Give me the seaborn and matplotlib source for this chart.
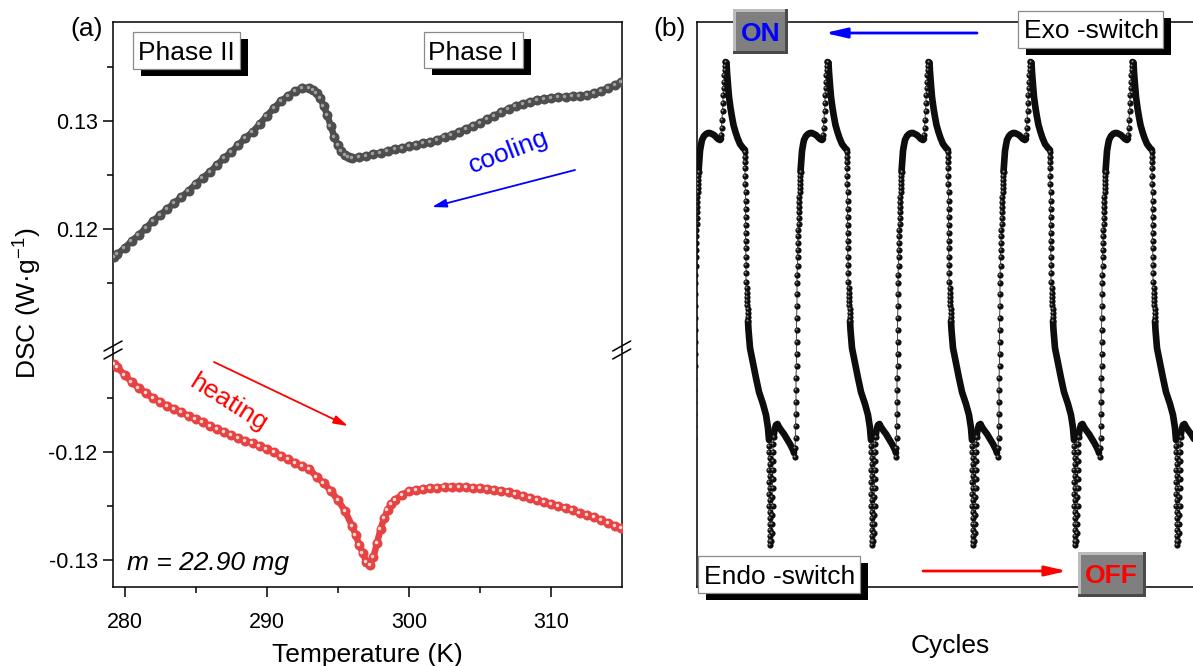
import numpy as np
import pandas as pd
import matplotlib
matplotlib.use("Agg")
import matplotlib.pyplot as plt
import seaborn as sns
from matplotlib.patches import Rectangle, FancyArrowPatch
from matplotlib.lines import Line2D
from matplotlib.transforms import ScaledTranslation

# ---------------- panel (a) data: DSC vs temperature ----------------
cool_T = [279.25, 279.5, 280.0, 280.5, 281.0, 281.5, 282.0, 282.5, 283.0, 283.5,
          284.0, 284.5, 285.0, 285.5, 286.0, 286.5, 287.0, 287.5, 288.0, 288.5,
          289.0, 289.5, 290.0, 290.5, 291.0, 291.5, 292.0, 292.5, 293.0, 293.25,
          293.5, 293.75, 294.0, 294.25, 294.5, 294.75, 295.0, 295.25, 295.5, 295.75,
          296.0, 296.5, 297.0, 297.5, 298.0, 298.5, 299.0, 299.5, 300.0, 300.5,
          301.0, 301.5, 302.0, 302.5, 303.0, 303.5, 304.0, 304.5, 305.0, 305.5,
          306.0, 306.5, 307.0, 307.5, 308.0, 308.5, 309.0, 309.5, 310.0, 310.5,
          311.0, 311.5, 312.0, 312.5, 313.0, 313.5, 314.0, 314.5, 314.9]
cool_dsc = [0.11741, 0.11769, 0.11824, 0.11889, 0.11944, 0.12009, 0.12074, 0.12130, 0.12185, 0.12241,
            0.12296, 0.12352, 0.12417, 0.12472, 0.12528, 0.12593, 0.12657, 0.12713, 0.12778, 0.12843,
            0.12898, 0.12972, 0.13046, 0.13120, 0.13185, 0.13231, 0.13278, 0.13306, 0.13306, 0.13287,
            0.13259, 0.13213, 0.13139, 0.13056, 0.12954, 0.12852, 0.12778, 0.12722, 0.12685, 0.12667,
            0.12657, 0.12667, 0.12676, 0.12694, 0.12704, 0.12722, 0.12741, 0.12750, 0.12769, 0.12778,
            0.12796, 0.12806, 0.12824, 0.12852, 0.12870, 0.12898, 0.12926, 0.12954, 0.12981, 0.13019,
            0.13046, 0.13083, 0.13111, 0.13139, 0.13157, 0.13176, 0.13194, 0.13204, 0.13213, 0.13222,
            0.13222, 0.13231, 0.13231, 0.13241, 0.13259, 0.13278, 0.13306, 0.13333, 0.13361]

heat_T = [279.25, 279.5, 280.0, 280.5, 281.0, 281.5, 282.0, 282.5, 283.0, 283.5,
          284.0, 284.5, 285.0, 285.5, 286.0, 286.5, 287.0, 287.5, 288.0, 288.5,
          289.0, 289.5, 290.0, 290.5, 291.0, 291.5, 292.0, 292.5, 293.0, 293.5,
          294.0, 294.5, 295.0, 295.5, 296.0, 296.25, 296.5, 296.75, 297.0, 297.25,
          297.5, 297.75, 298.0, 298.25, 298.5, 298.75, 299.0, 299.5, 300.0, 300.5,
          301.0, 301.5, 302.0, 302.5, 303.0, 303.5, 304.0, 304.5, 305.0, 305.5,
          306.0, 306.5, 307.0, 307.5, 308.0, 308.5, 309.0, 309.5, 310.0, 310.5,
          311.0, 311.5, 312.0, 312.5, 313.0, 313.5, 314.0, 314.5, 314.9]
heat_dsc = [-0.11185, -0.11213, -0.11287, -0.11352, -0.11407, -0.11454, -0.11500, -0.11537, -0.11574, -0.11602,
            -0.11630, -0.11667, -0.11694, -0.11722, -0.11759, -0.11787, -0.11815, -0.11843, -0.11870, -0.11898,
            -0.11917, -0.11944, -0.11972, -0.12000, -0.12037, -0.12065, -0.12102, -0.12130, -0.12157, -0.12231,
            -0.12287, -0.12361, -0.12444, -0.12546, -0.12685, -0.12769, -0.12861, -0.12935, -0.13019, -0.13046,
            -0.12972, -0.12843, -0.12713, -0.12611, -0.12537, -0.12481, -0.12444, -0.12398, -0.12361, -0.12352,
            -0.12343, -0.12333, -0.12333, -0.12324, -0.12324, -0.12324, -0.12324, -0.12333, -0.12333, -0.12343,
            -0.12352, -0.12361, -0.12370, -0.12389, -0.12407, -0.12426, -0.12444, -0.12463, -0.12481, -0.12500,
            -0.12519, -0.12537, -0.12565, -0.12583, -0.12602, -0.12630, -0.12657, -0.12685, -0.12704]

x_ticks = [280, 290, 300, 310]
x_tick_labels = ["280", "290", "300", "310"]
top_ticks = [0.12, 0.13]
top_tick_labels = ["0.12", "0.13"]
bot_ticks = [-0.13, -0.12]
bot_tick_labels = ["-0.13", "-0.12"]

# ---------------- panel (b) data: one switching cycle (time offset, signal a.u.) ----------------
cycle_start = [0, 102, 203, 305, 407]

rise_dt = [-4, -4, -3.5, -3.5, -3, -3, -3, -3, -2.5, -2.5, -2.5, -2.5, -2.5, -2, -2, -2, -2,
           -1.5, -1.5, -1.5, -1, -1, -1, -0.5, -0.5, -0.5, 0, 0, 0, 0.5, 0.5, 1, 1, 1, 1.5]
rise_h = [130, 139, 149, 161, 173, 185, 197, 209, 221, 233, 245, 257, 269, 281, 293, 304, 312,
          321, 330, 337, 344, 351, 357, 363, 369, 375, 380, 385, 390, 395, 399, 403, 407, 411, 415]
upper_dt = [1.5, 2, 2.5, 3, 4, 5, 7, 9, 11, 13, 15, 17, 19, 21, 23, 24]
upper_h = [415, 422, 429, 436, 442, 447, 451, 453, 454, 454, 453, 452, 450, 448, 447, 448]
spike_up_dt = [24, 24.5, 25, 25.5, 26, 26, 26.5, 27, 27, 27.5, 28, 28.5]
spike_up_h = [452, 459, 467, 476, 484, 492, 499, 505, 512, 517, 521, 525]
spike_down_dt = [28.5, 29.5, 30, 31, 32, 33.5, 35, 36.5, 38.5, 40.5, 43, 46, 48]
spike_down_h = [525, 524, 515, 502, 490, 479, 470, 462, 455, 449, 443, 439, 437]
fall_col_dt = [48, 48, 48, 48, 48, 48, 48.5, 48.5, 48.5, 48.5, 48.5, 48.5, 48.5, 48.5,
               49, 49, 49, 49, 49.5, 49.5, 50, 50, 50, 50.5, 50.5, 51, 51]
fall_col_h = [435, 430, 425, 419, 411, 403, 395, 386, 378, 370, 362, 354, 346, 339,
              330, 322, 314, 305, 299, 294, 290, 286, 282, 278, 274, 270, 266]
fall_curve_dt = [51, 51.5, 53, 56, 59, 62, 66, 69, 71, 72]
fall_curve_h = [266, 257, 239, 224, 209, 195, 183, 172, 159, 147]
trough_dt = [72, 72, 72.5, 72.5, 72, 72.5, 72, 72.5, 72, 72.5, 72, 72.5, 72.5, 73, 72.5, 73, 73, 73,
             74, 74.5, 75, 75, 75.5, 75, 75.5, 75.5, 75.5, 76, 76, 76, 76.5]
trough_h = [141, 135, 129, 123, 117, 111, 105, 99, 93, 87, 81, 75, 69, 63, 57, 51, 46, 42,
            46, 54, 63, 72, 81, 90, 99, 108, 117, 126, 135, 143, 150]
lower_dt = [76.5, 77.5, 79, 80.5, 82, 84, 87, 90, 93, 96, 97]
lower_h = [150, 157, 162, 163, 160, 157, 153, 148, 143, 137, 134]

# ---------------- style ----------------
sns.set_style("ticks")
plt.rcParams["font.family"] = ["Liberation Sans", "DejaVu Sans"]
plt.rcParams["mathtext.fontset"] = "custom"
plt.rcParams["mathtext.rm"] = "Liberation Sans"
plt.rcParams["mathtext.it"] = "Liberation Sans:italic"
plt.rcParams["axes.linewidth"] = 1.1
plt.rcParams["axes.edgecolor"] = "black"
for key in ("text.color", "axes.labelcolor", "xtick.color", "ytick.color",
            "xtick.labelcolor", "ytick.labelcolor"):
    plt.rcParams[key] = "black"

W, H = 1193, 666
fig = plt.figure(figsize=(W / 100, H / 100), dpi=100)
fig.patch.set_facecolor("white")


def fx(px):
    return px / W


def fy(py):
    return 1 - py / H


def rect_axes(x0, y0, x1, y1):
    return [fx(x0), fy(y1), (x1 - x0) / W, (y1 - y0) / H]


BREAK = 350
ax_top = fig.add_axes(rect_axes(113, 22, 621.7, BREAK))
ax_bot = fig.add_axes(rect_axes(113, BREAK, 621.7, 587))
ax_b = fig.add_axes(rect_axes(697, 22, 1203, 587))


def balls(ax, x, y, base, hi, d_px, line_px, hi_px):
    sns.lineplot(x=x, y=y, ax=ax, sort=False, estimator=None, color=base,
                 linewidth=line_px * 0.72, zorder=2)
    sns.scatterplot(x=x, y=y, ax=ax, color=base, s=(d_px * 0.72) ** 2,
                    linewidth=0, zorder=3, legend=False)
    sns.scatterplot(x=x, y=y, ax=ax, color=hi, s=(hi_px * 0.72) ** 2,
                    linewidth=0, zorder=4, legend=False)
    coll = ax.collections[-1]
    coll.set_offset_transform(ax.transData + ScaledTranslation(-0.013, 0.013, fig.dpi_scale_trans))


# ---- panel (a) ----
balls(ax_top, cool_T, cool_dsc, "#4e4e4e", "#a0a0a0", 10, 6.5, 3.5)
balls(ax_bot, heat_T, heat_dsc, "#e84343", "#fbd9d9", 10, 6.5, 3.5)

for ax in (ax_top, ax_bot):
    ax.set_xlim(279.19, 314.95)
    ax.set_xlabel("")
    ax.set_ylabel("")
    ax.tick_params(axis="y", which="major", direction="out", length=7, width=1.1,
                   labelsize=15.5, pad=4, right=False)
    ax.tick_params(axis="y", which="minor", direction="out", length=4, width=1.1, right=False)
    for s in ax.spines.values():
        s.set_color("black")
        s.set_linewidth(1.1)

ax_top.set_ylim(0.13 - (BREAK - 121) / 10800, 0.13 + 99 / 10800)
ax_bot.set_ylim(-0.13 - 27 / 10800, -0.12 + (452 - BREAK) / 10800)

ax_top.set_yticks(top_ticks, labels=top_tick_labels)
ax_top.set_yticks([0.115, 0.125, 0.135], minor=True)
ax_bot.set_yticks(bot_ticks, labels=bot_tick_labels)
ax_bot.set_yticks([-0.125, -0.115], minor=True)
ax_top.tick_params(axis="x", which="both", bottom=False, labelbottom=False)
ax_top.spines["bottom"].set_visible(False)
ax_bot.spines["top"].set_visible(False)

ax_bot.set_xticks(x_ticks, labels=x_tick_labels)
ax_bot.set_xticks([285, 295, 305], minor=True)
ax_bot.tick_params(axis="x", which="major", direction="out", length=7, width=1.1,
                   labelsize=15.5, pad=11)
ax_bot.tick_params(axis="x", which="minor", direction="out", length=4, width=1.1)

ax_bot.set_xlabel("Temperature (K)", fontsize=19)
ax_bot.xaxis.label.set_va("center")
ax_bot.xaxis.set_label_coords(0.5, (587 - 655) / (587 - BREAK))

ax_top.set_ylabel("DSC (W·g$^{-1}$)", fontsize=19)
ax_top.yaxis.label.set_va("center")
ax_top.yaxis.set_label_coords((28 - 113) / (621.7 - 113), (BREAK - 303) / (BREAK - 22))

# axis break marks
for xs in (113, 621.7):
    for yb in (BREAK - 4, BREAK + 4):
        fig.add_artist(Line2D([fx(xs - 9), fx(xs + 9)], [fy(yb + 5), fy(yb - 5)],
                              transform=fig.transFigure, color="black", lw=1.1, zorder=30))

# ---- panel (b) ----
segments = [("bead", rise_dt, rise_h), ("line", upper_dt, upper_h),
            ("bead", spike_up_dt, spike_up_h), ("line", spike_down_dt, spike_down_h),
            ("bead", fall_col_dt, fall_col_h), ("line", fall_curve_dt, fall_curve_h),
            ("bead", trough_dt, trough_h), ("line", lower_dt, lower_h)]
rows = []
for k, c in enumerate(cycle_start):
    for j, (kind, dts, hs) in enumerate(segments):
        for dt, h in zip(dts, hs):
            rows.append({"t": c + dt, "h": h, "kind": kind, "seg": f"{k}-{j}"})
df = pd.DataFrame(rows)

sns.lineplot(data=df, x="t", y="h", ax=ax_b, sort=False, estimator=None,
             color="#555555", linewidth=0.8, zorder=2)
sns.lineplot(data=df[df["kind"] == "line"], x="t", y="h", units="seg", ax=ax_b, sort=False,
             estimator=None, color="#0d0d0d", linewidth=4.8, zorder=3)
for ln in ax_b.lines:
    ln.set_solid_capstyle("round")
beads = df[df["kind"] == "bead"]
sns.scatterplot(data=beads, x="t", y="h", ax=ax_b, color="#0e0e0e", s=(6.2 * 0.72) ** 2,
                linewidth=0, zorder=4, legend=False)
sns.scatterplot(data=beads, x="t", y="h", ax=ax_b, color="#8c8c8c", s=(2.0 * 0.72) ** 2,
                linewidth=0, zorder=5, legend=False)
ax_b.collections[-1].set_offset_transform(
    ax_b.transData + ScaledTranslation(-0.009, 0.009, fig.dpi_scale_trans))

ax_b.set_xlim(0, 506)
ax_b.set_ylim(0, 565)
ax_b.set_xticks([])
ax_b.set_yticks([])
ax_b.set_ylabel("")
ax_b.set_xlabel("Cycles", fontsize=19)
ax_b.xaxis.label.set_va("center")
ax_b.xaxis.set_label_coords(0.5, (587 - 646) / 565)
for s in ax_b.spines.values():
    s.set_color("black")
    s.set_linewidth(1.1)


# ---------------- annotations ----------------
def R(x0, y0, x1, y1, fc, ec="none", lw=0, z=20):
    fig.add_artist(Rectangle((fx(x0), fy(y1)), (x1 - x0) / W, (y1 - y0) / H,
                             transform=fig.transFigure, facecolor=fc, edgecolor=ec,
                             linewidth=lw, zorder=z))


def shadow_box(x0, y0, x1, y1, text, tx, ty, dx=8, dy=7):
    R(x0 + dx, y0 + dy, x1 + dx, y1 + dy, "black", z=20)
    R(x0, y0, x1, y1, "white", ec="#8a8a8a", lw=0.9, z=21)
    fig.text(fx(tx), fy(ty), text, ha="center", va="baseline", fontsize=19, zorder=22)


def button(x0, y0, x1, y1, text, color, tx, ty):
    b = 3
    R(x0, y0, x1, y1, "#4a4a4a", z=20)
    R(x0, y0, x1 - b, y1 - b, "#bcbcbc", z=21)
    R(x0 + b, y0 + b, x1 - b, y1 - b, "#7f7f7f", z=22)
    fig.text(fx(tx), fy(ty), text, ha="center", va="baseline", fontsize=19,
             fontweight="bold", color=color, zorder=23)


def arrow(x0, y0, x1, y1, color, lw, hl, hw):
    fig.add_artist(FancyArrowPatch((fx(x0), fy(y0)), (fx(x1), fy(y1)), transform=fig.transFigure,
                                   arrowstyle=f"-|>,head_length={hl},head_width={hw}",
                                   mutation_scale=10, color=color, linewidth=lw,
                                   shrinkA=0, shrinkB=0, zorder=25))


shadow_box(133, 32, 240, 69, "Phase II", 186.5, 59.5)
shadow_box(424, 32, 523, 68, "Phase I", 473, 59.5)
shadow_box(1018, 11, 1163, 48, "Exo -switch", 1091.5, 38.5)
shadow_box(698, 556, 860, 593, "Endo -switch", 779.5, 583.5)
button(733, 9, 788, 54, "ON", "#0000ff", 760.5, 41)
button(1078, 552, 1146, 597, "OFF", "#ff0000", 1111, 583)

arrow(575, 170, 432, 207, "#0000ff", 1.3, 0.85, 0.25)
arrow(214, 362, 348, 426, "#ff0000", 1.3, 0.85, 0.25)
arrow(977, 33, 825, 33, "#0000ff", 2.0, 1.3, 0.3)
arrow(923, 571, 1067, 571, "#ff0000", 2.0, 1.3, 0.3)

fig.text(fx(509), fy(152), "cooling", color="#0000ff", fontsize=19, rotation=21,
         ha="center", va="center", rotation_mode="anchor")
fig.text(fx(228), fy(403), "heating", color="#ff0000", fontsize=19, rotation=-32,
         ha="center", va="center", rotation_mode="anchor")
fig.text(fx(127), fy(570), "m = 22.90 mg", fontsize=19, style="italic", ha="left", va="baseline")
fig.text(fx(70), fy(36), "(a)", fontsize=19, ha="left", va="baseline")
fig.text(fx(653), fy(36), "(b)", fontsize=19, ha="left", va="baseline")

fig.savefig("out.png", dpi=100, facecolor="white")
